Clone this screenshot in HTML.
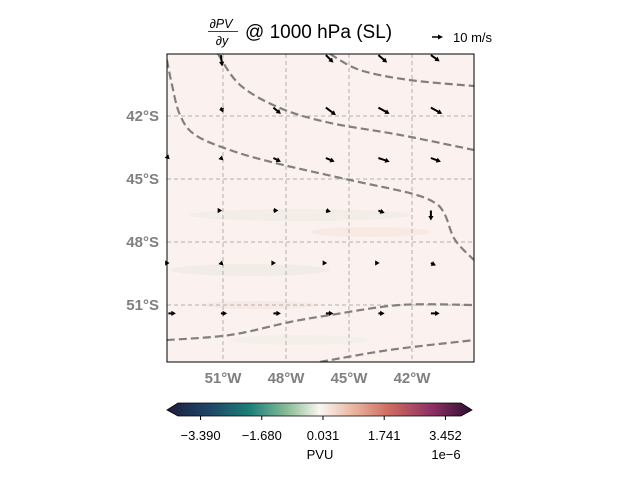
<!DOCTYPE html>
<html><head><meta charset="utf-8"><style>
body{margin:0;background:#fff;}
svg{display:block;font-family:"Liberation Sans","DejaVu Sans",sans-serif;}
</style></head><body>
<svg id="c" width="640" height="480" viewBox="0 0 640 480">
<defs>
<linearGradient id="cm" x1="0" x2="1">
<stop offset="0" stop-color="#1b1e3f"/><stop offset="0.15" stop-color="#1f4a68"/><stop offset="0.27" stop-color="#1b7f78"/>
<stop offset="0.4" stop-color="#8fbf9a"/><stop offset="0.5" stop-color="#fbf6f2"/><stop offset="0.62" stop-color="#e8b09a"/>
<stop offset="0.73" stop-color="#cd6a60"/><stop offset="0.87" stop-color="#8e2f64"/><stop offset="1" stop-color="#2a1030"/>
</linearGradient>
<clipPath id="mc"><rect x="167" y="54" width="307" height="308"/></clipPath>
</defs>
<g>
<rect x="167" y="54" width="307" height="308" fill="#fbf1ee"/>
<g clip-path="url(#mc)" opacity="0.3">
<ellipse cx="300" cy="215" rx="110" ry="6" fill="#dfe6d6"/>
<ellipse cx="370" cy="232" rx="60" ry="5" fill="#f3d8cc"/>
<ellipse cx="250" cy="270" rx="80" ry="6" fill="#dde6d6"/>
<ellipse cx="260" cy="305" rx="60" ry="4" fill="#f1dcd0"/>
<ellipse cx="300" cy="340" rx="70" ry="5" fill="#e5ebdf"/>
</g>
<g id="grid"></g>
<g id="cont" clip-path="url(#mc)"></g>
<g id="quiv"></g>
<rect x="167" y="54" width="307" height="308" fill="none" stroke="#000" stroke-width="1"/>
<g id="labels"></g>
</g>
<g>
<text x="221" y="28" text-anchor="middle" font-size="12.5" font-style="italic">∂PV</text>
<line x1="208" y1="31.5" x2="238" y2="31.5" stroke="#000" stroke-width="0.8"/>
<text x="222" y="45" text-anchor="middle" font-size="12.5" font-style="italic">∂y</text>
<text x="245" y="38" font-size="19">@ 1000 hPa (SL)</text>
</g>
<g>
<line x1="432" y1="37" x2="439" y2="37" stroke="#000" stroke-width="1.5"/>
<polygon points="443,37 438,34.5 438,39.5" fill="#000"/>
<text x="453" y="42" font-size="13">10 m/s</text>
</g>
<g>
<polygon points="167,410 178,403 461,403 472,410 461,416 178,416" fill="url(#cm)" stroke="#000" stroke-width="0.8"/>
<g id="cbt"></g>
<text x="320" y="459" text-anchor="middle" font-size="13">PVU</text>
<text x="446" y="459" text-anchor="middle" font-size="13">1e−6</text>
</g>
</svg>
<script>
const lonTicks=[-51,-48,-45,-42];
const latTicks=[-42,-45,-48,-51];
const cbTicks=["−3.390","−1.680","0.031","1.741","3.452"];
const cbVals=[-3.390,-1.680,0.031,1.741,3.452];
// wind vectors (m/s)
const qLon=[-53.6,-51.1,-48.6,-46.1,-43.6,-41.1];
const qLat=[-39.1,-41.6,-44.0,-46.5,-49.0,-51.4];
const qU=[
[0,1,0,6,7,7],
[0,2,6,8,9,9],
[1,2,6,7,9,8],
[0,1,4,4,5,0],
[1,2,2,1,1,4],
[6,5,6,6,5,7]];
const qV=[
[0,-9,0,-6,-6,-5],
[0,-4,-5,-6,-5,-5],
[-1,-2,-3,-3,-3,-3],
[0,0,0,-1,-2,-8],
[0,-2,0,0,0,-2],
[0,0,0,0,0,0]];
const cLon=[
[-53.67,-53.43,-53.05,-52.33,-50.67,-48.52,-44.95,-42.10,-40.90,-40.43,-39.95,-39.05],
[-51.24,-50.19,-48.29,-45.90,-42.57,-39.05],
[-45.90,-44.48,-42.10,-39.05],
[-53.67,-50.67,-47.81,-45.90,-42.57,-39.05],
[-46.38,-43.05,-39.05]];
const cLat=[
[-39.33,-40.52,-41.95,-42.90,-43.62,-44.24,-45.05,-45.67,-46.14,-46.71,-47.90,-48.86],
[-39.05,-40.52,-41.62,-42.33,-42.90,-43.62],
[-39.05,-39.81,-40.29,-40.57],
[-52.67,-52.43,-51.81,-51.48,-51.00,-51.00],
[-53.71,-53.14,-52.67]];
const X=lon=>223+(lon+51)*21, Y=lat=>116+(-42-lat)*21;
const CB=v=>323+(v-0.031)*(61.2/1.71);
const NS="http://www.w3.org/2000/svg";
function mk(t,a,p){const e=document.createElementNS(NS,t);for(const k in a)e.setAttribute(k,a[k]);p.appendChild(e);return e;}
const grid=document.getElementById('grid'),lab=document.getElementById('labels');
lonTicks.forEach(l=>{const e=mk('line',{x1:X(l),x2:X(l),y1:54,y2:362,stroke:'#b0b0b0','stroke-dasharray':'4,3','stroke-width':1},grid);

const t=mk('text',{x:X(l),y:383,'text-anchor':'middle','font-size':15,'font-weight':'bold',fill:'#808080'},lab);t.textContent=Math.abs(l)+'°W';
});
latTicks.forEach(l=>{const e=mk('line',{x1:167,x2:474,y1:Y(l),y2:Y(l),stroke:'#b0b0b0','stroke-dasharray':'4,3','stroke-width':1},grid);

const t=mk('text',{x:159,y:Y(l)+5,'text-anchor':'end','font-size':15,'font-weight':'bold',fill:'#808080'},lab);t.textContent=Math.abs(l)+'°S';
});
const cont=document.getElementById('cont');
cLon.forEach((a,i)=>{const P=a.map((lo,j)=>[X(lo),Y(cLat[i][j])]);
let d='M'+P[0][0].toFixed(1)+','+P[0][1].toFixed(1);
for(let k=0;k<P.length-1;k++){const p0=P[Math.max(k-1,0)],p1=P[k],p2=P[k+1],p3=P[Math.min(k+2,P.length-1)];
const c1=[p1[0]+(p2[0]-p0[0])/6,p1[1]+(p2[1]-p0[1])/6],c2=[p2[0]-(p3[0]-p1[0])/6,p2[1]-(p3[1]-p1[1])/6];
d+=` C${c1[0].toFixed(1)},${c1[1].toFixed(1)} ${c2[0].toFixed(1)},${c2[1].toFixed(1)} ${p2[0].toFixed(1)},${p2[1].toFixed(1)}`;}
const e=mk('path',{d:d,fill:'none',stroke:'#808080','stroke-width':2.2,'stroke-dasharray':'8,4','stroke-linejoin':'round'},cont);
});
const q=document.getElementById('quiv');const S=1.25;
qLat.forEach((la,i)=>qLon.forEach((lo,j)=>{const u=qU[i][j],v=qV[i][j];const x0=X(lo),y0=Y(la);
const L=Math.hypot(u,v);if(L<0.5)return;const ux=u/L,uy=-v/L;const x1=x0+u*S,y1=y0-v*S;
const e=mk('g',{},q);
if(L*S>4)mk('line',{x1:x0,y1:y0,x2:x1-ux*3,y2:y1-uy*3,stroke:'#000','stroke-width':2},e);
mk('polygon',{points:`${x1},${y1} ${x1-ux*4.5-uy*2.6},${y1-uy*4.5+ux*2.6} ${x1-ux*4.5+uy*2.6},${y1-uy*4.5-ux*2.6}`,fill:'#000'},e);}));
const cbt=document.getElementById('cbt');
cbVals.forEach((v,i)=>{mk('line',{x1:CB(v),x2:CB(v),y1:416,y2:420,stroke:'#000'},cbt);
const t=mk('text',{x:CB(v),y:440,'text-anchor':'middle','font-size':13},cbt);t.textContent=cbTicks[i];
});
</script>
</body></html>
